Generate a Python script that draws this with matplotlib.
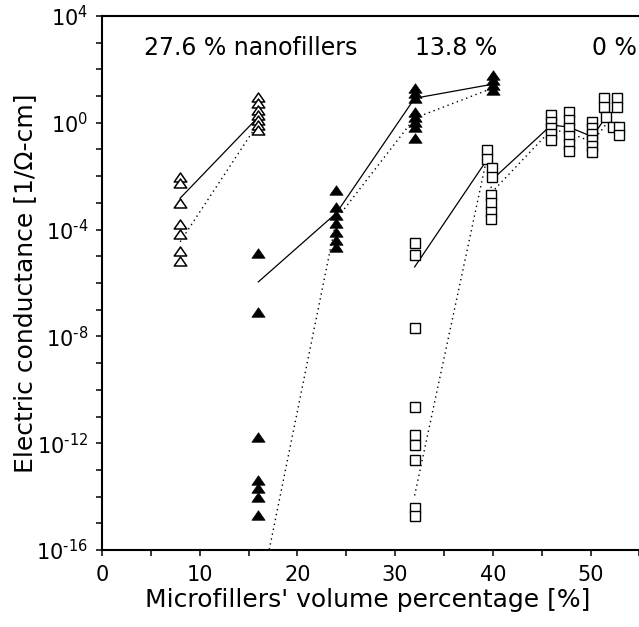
import numpy as np
import matplotlib
matplotlib.use("Agg")
import matplotlib.pyplot as plt
from matplotlib.path import Path
from matplotlib.ticker import FixedLocator, FuncFormatter, MultipleLocator, NullFormatter

# ---------------- data ----------------
# 27.6 % nanofillers (open triangles)
nano276_x8 = [8] * 7
nano276_y8 = [9.5e-3, 5.8e-3, 9.8e-4, 1.6e-4, 6.9e-5, 1.6e-5, 6.9e-6]
nano276_x16 = [16] * 7
nano276_y16 = [9.5, 5.4, 3.0, 1.95, 1.26, 0.83, 0.54]
nano276_line_x = [8, 16]
nano276_solid = [1.5e-3, 1.66]
nano276_dotted = [3.5e-5, 0.98]

# 13.8 % nanofillers (filled triangles)
nano138_x = [16] * 7 + [24] * 7 + [32] * 8 + [40] * 4
nano138_y = [1.3e-5, 8.5e-8, 1.7e-12, 4.2e-14, 2.1e-14, 9.8e-15, 2.0e-15,
             3.0e-3, 7.2e-4, 3.5e-4, 1.8e-4, 8.3e-5, 4.1e-5, 2.3e-5,
             19.5, 12.6, 8.3, 2.6, 1.7, 1.1, 0.71, 0.26,
             62, 40, 26, 17]
nano138_line_x = [16, 24, 32, 40]
nano138_solid = [1.1e-6, 4.2e-4, 8.3, 28]
nano138_dotted = [1e-18, 2.5e-4, 1.5, 20]

# 0 % nanofillers (open squares)
nano0_x = ([32] * 9 + [39.4, 39.4, 39.9, 39.9, 39.8, 39.8, 39.8, 39.8]
           + [46] * 5 + [47.8] * 6 + [50.2] * 6
           + [51.4, 52.7, 51.4, 52.7, 51.6, 52.3, 52.9, 52.9])
nano0_y = ([3.1e-5, 1.1e-5, 2.0e-8, 2.3e-11, 2.0e-12, 8.5e-13, 2.3e-13, 3.6e-15, 1.8e-15]
           + [0.095, 0.044, 0.020, 9.3e-3, 2.0e-3, 1.0e-3, 4.6e-4, 2.5e-4]
           + [1.95, 1.07, 0.65, 0.38, 0.23]
           + [2.5, 1.26, 0.65, 0.32, 0.16, 0.087]
           + [1.07, 0.65, 0.38, 0.23, 0.135, 0.081]
           + [8.5, 8.5, 3.9, 3.9, 1.66, 0.69, 0.69, 0.35])
nano0_line_x = [32, 39.4, 39.9, 46, 47.8, 50.2, 51.7]
nano0_solid = [4.0e-6, 0.041, 7.2e-3, 0.83, 0.69, 0.30, 1.95]
nano0_dotted = [1.1e-14, 0.05, 2.5e-3, 0.56, 0.42, 0.19, 1.0]

xticks = [0, 10, 20, 30, 40, 50]
yticks_major = [1e4, 1e0, 1e-4, 1e-8, 1e-12, 1e-16]

annotations = [("27.6 % nanofillers", 4.3), ("13.8 %", 32.0), ("0 %", 50.2)]

# ---------------- style ----------------
plt.rcParams["font.family"] = ["DejaVu Sans"]
plt.rcParams["mathtext.default"] = "regular"

W, H = 639, 627
fig = plt.figure(figsize=(W / 100, H / 100), dpi=100)
left_px, top_px, bottom_px = 102, 16, 550
px_per_unit = 9.77
xmax = 55.5
ax = fig.add_axes([left_px / W, 1 - bottom_px / H,
                   xmax * px_per_unit / W, (bottom_px - top_px) / H])

tri = Path([(-1, -0.72), (1, -0.72), (0, 0.72), (-1, -0.72)], closed=True)
dot_ls = (0, (1, 2.6))

# lines
ax.plot(nano276_line_x, nano276_solid, color="black", lw=0.9, zorder=2)
ax.plot(nano276_line_x, nano276_dotted, color="black", lw=1.0, ls=dot_ls, zorder=2)
ax.plot(nano138_line_x, nano138_solid, color="black", lw=0.9, zorder=2)
ax.plot(nano138_line_x, nano138_dotted, color="black", lw=1.0, ls=dot_ls, zorder=2)
ax.plot(nano0_line_x, nano0_solid, color="black", lw=0.9, zorder=2)
ax.plot(nano0_line_x, nano0_dotted, color="black", lw=1.0, ls=dot_ls, zorder=2)

# markers
ax.plot(nano276_x8 + nano276_x16, nano276_y8 + nano276_y16, ls="none",
        marker=tri, ms=9, mfc="white", mec="black", mew=1.1, zorder=3)
ax.plot(nano138_x, nano138_y, ls="none", marker=tri, ms=9.5,
        mfc="black", mec="black", mew=0.5, zorder=3)
ax.plot(nano0_x, nano0_y, ls="none", marker="s", ms=7, mfc="white",
        mec="black", mew=1.0, zorder=3)

# axes
ax.set_yscale("log")
ax.set_xlim(0, xmax)
ax.set_ylim(1e-16, 1e4)
ax.xaxis.set_major_locator(FixedLocator(xticks))
ax.xaxis.set_minor_locator(MultipleLocator(5))
ax.yaxis.set_major_locator(FixedLocator(yticks_major))
ax.yaxis.set_minor_locator(FixedLocator([10.0 ** k for k in range(-16, 5)]))
ax.yaxis.set_minor_formatter(NullFormatter())


def yfmt(v, p):
    e = int(round(np.log10(v)))
    s = str(abs(e))
    if e < 0:
        s = "\u2010" + s
    return r"$10^{%s}$" % s


ax.yaxis.set_major_formatter(FuncFormatter(yfmt))
ax.tick_params(which="both", direction="out", length=4, width=1.1,
               labelsize=15, color="black")
ax.tick_params(axis="x", which="both", pad=7)
ax.tick_params(axis="y", which="both", pad=6)
for s in ["left", "bottom", "top"]:
    ax.spines[s].set_linewidth(1.5)
ax.spines["right"].set_visible(False)

ax.set_xlabel("Microfillers' volume percentage [%]", fontsize=18)
ax.set_ylabel("Electric conductance [1/\u03a9-cm]", fontsize=18)
ax.xaxis.set_label_coords(0.49, -0.072)
ax.yaxis.set_label_coords(-0.119, 0.5)

for txt, xpos in annotations:
    ax.text(xpos, 10 ** 2.8, txt, fontsize=17, ha="left", va="center")

fig.savefig("out.png", dpi=100)
